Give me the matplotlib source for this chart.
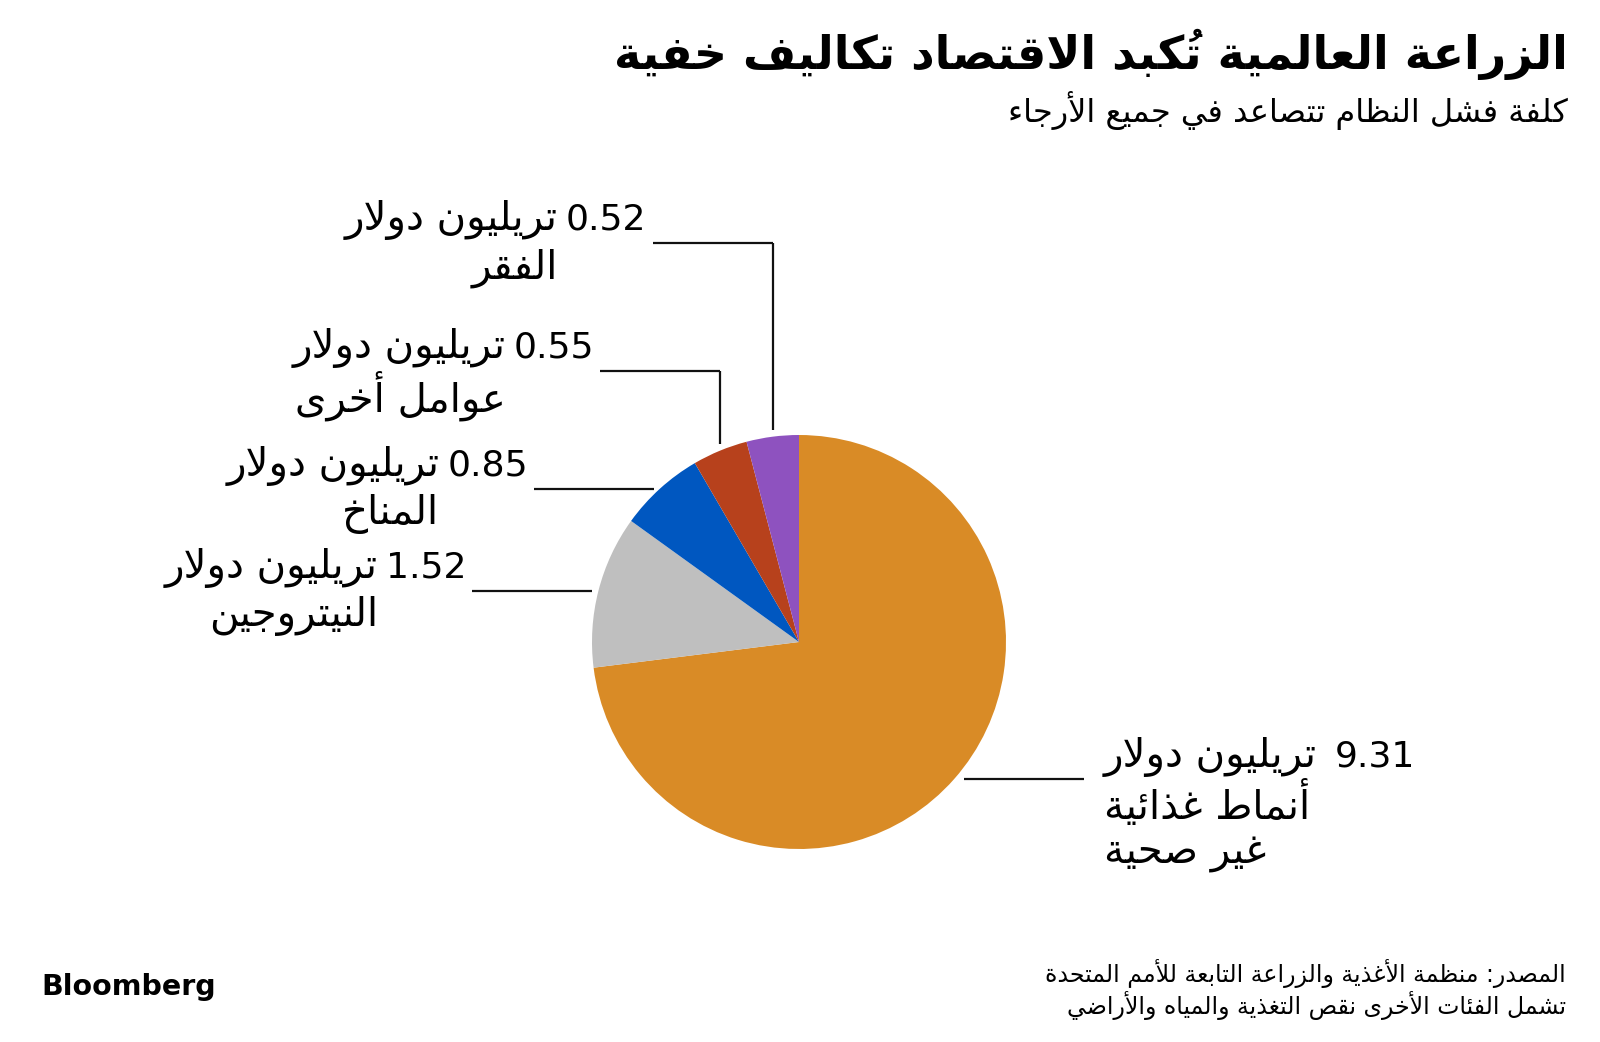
import matplotlib
matplotlib.use('Agg')
import matplotlib.pyplot as plt
import math

plt.rcParams['font.family'] = ['DejaVu Sans']

# data
values = [9.31, 1.52, 0.85, 0.55, 0.52]
names = ['أنماط غذائية\nغير صحية', 'النيتروجين', 'المناخ', 'عوامل أخرى', 'الفقر']
colors = ['#D98B26', '#BFBFBF', '#0057C0', '#B7411C', '#8E52BF']
unit = 'تريليون دولار'

title = 'الزراعة العالمية تُكبد الاقتصاد تكاليف خفية'
subtitle = 'كلفة فشل النظام تتصاعد في جميع الأرجاء'
source = 'المصدر: منظمة الأغذية والزراعة التابعة للأمم المتحدة'
note = 'تشمل الفئات الأخرى نقص التغذية والمياه والأراضي'

# --- minimal arabic shaping (matplotlib has no shaping / bidi) ---
DUAL = {'ئ': 0xFE89, 'ب': 0xFE8F, 'ت': 0xFE95, 'ث': 0xFE99, 'ج': 0xFE9D, 'ح': 0xFEA1,
        'خ': 0xFEA5, 'س': 0xFEB1, 'ش': 0xFEB5, 'ص': 0xFEB9, 'ض': 0xFEBD, 'ط': 0xFEC1,
        'ظ': 0xFEC5, 'ع': 0xFEC9, 'غ': 0xFECD, 'ف': 0xFED1, 'ق': 0xFED5, 'ك': 0xFED9,
        'ل': 0xFEDD, 'م': 0xFEE1, 'ن': 0xFEE5, 'ه': 0xFEE9, 'ي': 0xFEF1}
RIGHT = {'آ': 0xFE81, 'أ': 0xFE83, 'ؤ': 0xFE85, 'إ': 0xFE87, 'ا': 0xFE8D, 'ة': 0xFE93,
         'د': 0xFEA9, 'ذ': 0xFEAB, 'ر': 0xFEAD, 'ز': 0xFEAF, 'و': 0xFEED, 'ى': 0xFEEF}
LAM_ALEF = {'آ': 0xFEF5, 'أ': 0xFEF7, 'إ': 0xFEF9, 'ا': 0xFEFB}
MARKS = set('\u064B\u064C\u064D\u064E\u064F\u0650\u0651\u0652')


def shape_line(s):
    toks = []
    for ch in s:
        if ch in MARKS and toks:
            toks[-1][1] += ch
        else:
            toks.append([ch, ''])
    merged = []
    i = 0
    while i < len(toks):
        b, m = toks[i]
        if b == 'ل' and i + 1 < len(toks) and toks[i + 1][0] in LAM_ALEF:
            merged.append(['LA' + toks[i + 1][0], m + toks[i + 1][1]])
            i += 2
        else:
            merged.append([b, m])
            i += 1
    out = []
    for i, (b, m) in enumerate(merged):
        prev = merged[i - 1][0] if i > 0 else ''
        nxt = merged[i + 1][0] if i + 1 < len(merged) else ''
        jp = prev in DUAL
        if b.startswith('LA'):
            g = chr(LAM_ALEF[b[2]] + (1 if jp else 0))
        elif b in DUAL:
            jn = nxt in DUAL or nxt in RIGHT or nxt.startswith('LA')
            g = chr(DUAL[b] + [[0, 2], [1, 3]][jp][jn])
        elif b in RIGHT:
            g = chr(RIGHT[b] + (1 if jp else 0))
        else:
            g = b
        out.append(m + g)  # mark first so it lands over its base
    # visual order: reverse, keep ltr runs (digits / latin) as they are
    runs = []
    for c in out:
        ltr = c.isascii() and (c.isalnum() or c == '.')
        if ltr and runs and runs[-1][0]:
            runs[-1][1].append(c)
        else:
            runs.append([ltr, [c]])
    return ''.join(''.join(r[1]) for r in reversed(runs))


def ar(s):
    return '\n'.join(shape_line(l) for l in s.split('\n'))


W, H = 1600, 1042
fig = plt.figure(figsize=(16, 10.42), dpi=100)
ax = fig.add_axes([0, 0, 1, 1])


def Y(p):
    return H - p


cx, cy, r = 799, 642, 207
wedges, _ = ax.pie(values, colors=colors, startangle=90, counterclock=False,
                   radius=r, center=(cx, Y(cy)), wedgeprops=dict(linewidth=0))
ax.set_xlim(0, W)
ax.set_ylim(0, H)
ax.axis('off')

renderer = fig.canvas.get_renderer()
num_fs = 26
ar_fs = 29
line_kw = dict(color='#111111', lw=1.6, solid_capstyle='butt')
elbow_y = {3: 371, 4: 243}  # top of vertical leaders for the two small slices

for i, w in enumerate(wedges):
    mid = math.radians((w.theta1 + w.theta2) / 2)
    ex = cx + r * math.cos(mid)
    ey = cy - r * math.sin(mid)
    val = f'{values[i]:.2f}'
    if i == 0:
        # right side label
        x0 = ex + 10
        ax.plot([x0, x0 + 120], [Y(ey), Y(ey)], **line_kw)
        lines = names[i].split('\n')
        t = ax.text(1104, Y(ey - 22), ar(unit), ha='left', va='center', fontsize=ar_fs)
        for k, ln in enumerate(lines):
            ax.text(1104, Y(ey - 22 + 48 * (k + 1)), ar(ln), ha='left', va='center', fontsize=ar_fs)
        bb = t.get_window_extent(renderer)
        ax.text(bb.x1 + 18, Y(ey - 22), val, ha='left', va='center', fontsize=num_fs)
        continue
    if i in elbow_y:
        ly = elbow_y[i]
        ax.plot([ex, ex], [Y(ey - 7), Y(ly)], **line_kw)
        x1 = ex
    else:
        ly = ey
        x1 = ex - 6
    x0 = x1 - 120
    ax.plot([x0, x1], [Y(ly), Y(ly)], **line_kw)
    tn = ax.text(x0 - 6, Y(ly - 23), val, ha='right', va='center', fontsize=num_fs)
    bb = tn.get_window_extent(renderer)
    ax.text(bb.x0 - 8, Y(ly - 23), ar(unit), ha='right', va='center', fontsize=ar_fs)
    ax.text(bb.x0 - 8, Y(ly - 23 + 48), ar(names[i]), ha='right', va='center', fontsize=ar_fs)

ax.text(1568, Y(54), ar(title), ha='right', va='center', fontsize=33, weight='bold')
ax.text(1568, Y(110), ar(subtitle), ha='right', va='center', fontsize=23)
ax.text(1566, Y(973), ar(source), ha='right', va='center', fontsize=17)
ax.text(1566, Y(1006), ar(note), ha='right', va='center', fontsize=17)
ax.text(41, Y(987), 'Bloomberg', ha='left', va='center', fontsize=20.5, weight='bold')

fig.savefig('out.png', dpi=100, facecolor='white')
